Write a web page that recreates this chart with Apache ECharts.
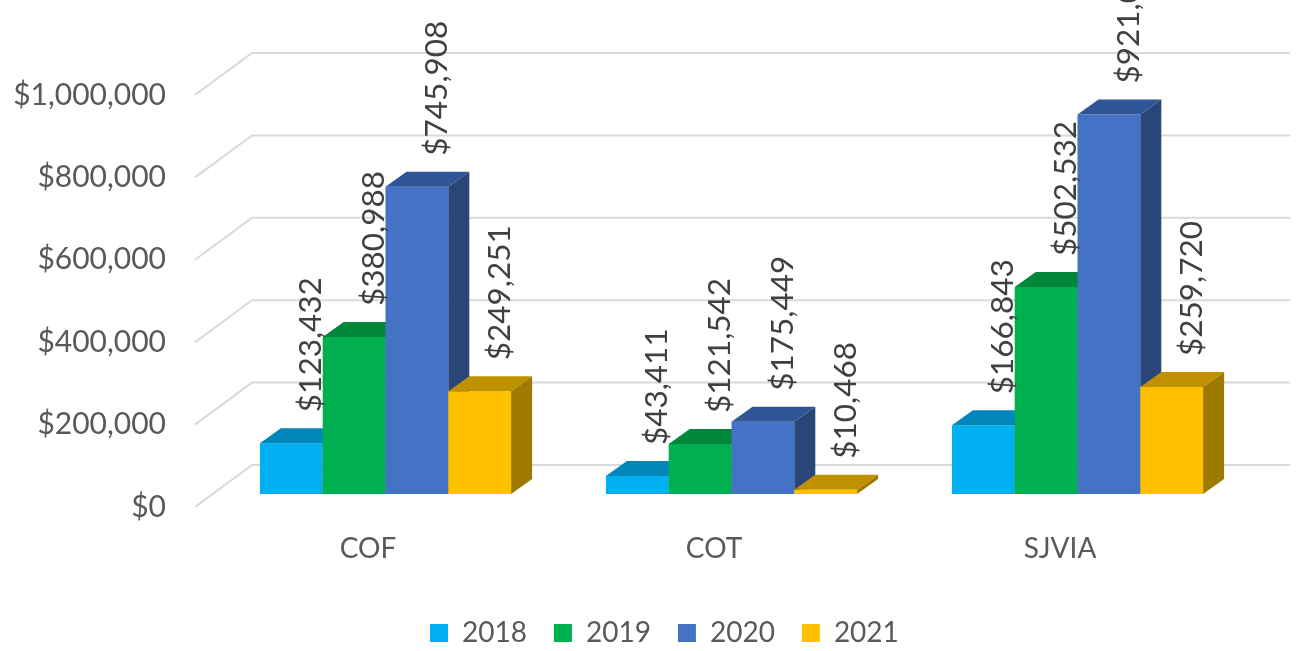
<!DOCTYPE html>
<html>
<head>
<meta charset="utf-8">
<script src="https://cdn.jsdelivr.net/npm/echarts@6/dist/echarts.min.js"></script>
<style>
  html, body { margin: 0; padding: 0; background: #fff; }
  #chart { width: 1297px; height: 651px; }
</style>
</head>
<body>
<div id="chart"></div>
<script>
// data
const categories = ['COF', 'COT', 'SJVIA']
const years = ['2018', '2019', '2020', '2021']
const values2018 = [123432, 43411, 166843]
const values2019 = [380988, 121542, 502532]
const values2020 = [745908, 175449, 921000]
const values2021 = [249251, 10468, 259720]
const yTicks = [0, 200000, 400000, 600000, 800000, 1000000]

const allValues = [values2018, values2019, values2020, values2021]

// bar face colours: front / top / side
const frontColors = ['#00B0F0', '#00B050', '#4472C4', '#FFC000']
const topColors = ['#0086B9', '#00873A', '#2F5597', '#BF9000']
const sideColors = ['#00709B', '#006B2E', '#2A4679', '#9E7A00']

const FONT = 'Lato, "Open Sans", sans-serif'
// 3D projection offsets (px)
const WALL_DX = 57, WALL_DY = 42   // front edge -> back wall
const BAR_OX = 17.5, BAR_OY = 13   // front edge -> bar front plane
const BAR_DX = 21, BAR_DY = 15     // bar depth

function money(v) {
  return '$' + String(v).replace(/\B(?=(\d{3})+(?!\d))/g, ',')
}

const chart = echarts.init(document.getElementById('chart'))

// back wall gridlines with slanted side wall
const gridSeries = {
  type: 'custom',
  silent: true,
  z: 1,
  data: yTicks.map(v => [0, v]),
  encode: { x: 0, y: 1 },
  renderItem(params, api) {
    const cs = params.coordSys
    const y = api.coord([0, api.value(1)])[1]
    return {
      type: 'polyline',
      shape: {
        points: [
          [cs.x, y],
          [cs.x + WALL_DX, y - WALL_DY],
          [cs.x + cs.width + WALL_DX, y - WALL_DY]
        ]
      },
      style: { stroke: '#D9D9D9', lineWidth: 2, fill: null }
    }
  }
}

const barSeries = years.map((year, s) => ({
  name: year,
  type: 'custom',
  z: 2,
  itemStyle: { color: frontColors[s] },
  data: categories.map((c, i) => [i, allValues[s][i]]),
  encode: { x: 0, y: 1 },
  renderItem(params, api) {
    const top = api.coord([api.value(0), api.value(1)])
    const base = api.coord([api.value(0), 0])
    const band = api.size([1, 0])[0]
    const bw = band * 0.1815
    const x0 = top[0] + BAR_OX - 2 * bw + s * bw
    const x1 = x0 + bw
    const yt = top[1] - BAR_OY
    const yb = base[1] - BAR_OY
    return {
      type: 'group',
      children: [
        {
          type: 'rect',
          shape: { x: x0, y: yt, width: bw, height: yb - yt },
          style: { fill: frontColors[s] }
        },
        {
          type: 'polygon',
          shape: { points: [[x0, yt], [x0 + BAR_DX, yt - BAR_DY], [x1 + BAR_DX, yt - BAR_DY], [x1, yt]] },
          style: { fill: topColors[s] }
        },
        {
          type: 'polygon',
          shape: { points: [[x1, yt], [x1 + BAR_DX, yt - BAR_DY], [x1 + BAR_DX, yb - BAR_DY], [x1, yb]] },
          style: { fill: sideColors[s] }
        },
        {
          type: 'text',
          x: x0 + bw / 2 + 20,
          y: yt - BAR_DY - 16,
          rotation: Math.PI / 2,
          z2: 100,
          style: {
            text: money(api.value(1)),
            fill: '#404040',
            font: '31.5px ' + FONT,
            align: 'left',
            verticalAlign: 'middle'
          }
        }
      ]
    }
  }
}))

const option = {
  backgroundColor: '#ffffff',
  animation: false,
  grid: {
    left: 195,
    right: 64,
    top: 95,
    bottom: 144
  },
  legend: {
    data: years,
    left: 430,
    top: 619,
    padding: 0,
    icon: 'rect',
    itemWidth: 18,
    itemHeight: 18,
    itemGap: 27,
    textStyle: {
      fontFamily: FONT,
      fontSize: 28,
      color: '#595959',
      padding: [0, 0, 0, 9]
    }
  },
  xAxis: {
    type: 'category',
    data: categories,
    axisLine: { show: false },
    axisTick: { show: false },
    axisLabel: {
      fontFamily: FONT,
      fontSize: 28,
      color: '#595959',
      margin: 28
    }
  },
  yAxis: {
    type: 'value',
    min: 0,
    max: 1000000,
    interval: 200000,
    axisLine: { show: false },
    axisTick: { show: false },
    splitLine: { show: false },
    axisLabel: {
      fontFamily: FONT,
      fontSize: 30,
      color: '#595959',
      margin: 29,
      formatter: v => money(v)
    }
  },
  series: [gridSeries].concat(barSeries)
}

chart.setOption(option)
</script>
</body>
</html>
